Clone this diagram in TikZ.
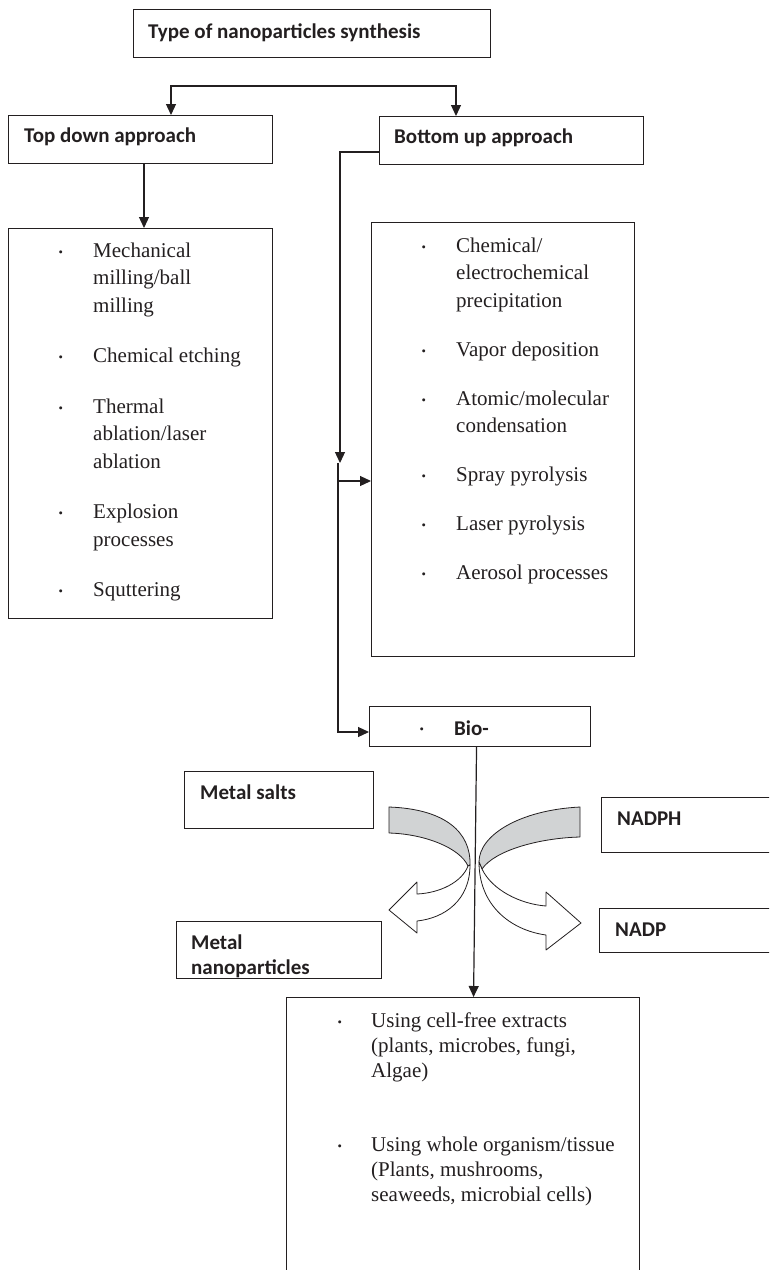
\documentclass[tikz,border=0pt]{standalone}
\usepackage{fontspec}
\setmainfont{Liberation Serif}
\newfontfamily\labelfont{Carlito}
\usetikzlibrary{arrows.meta,calc}
\definecolor{ink}{HTML}{231F20}
\definecolor{bandgray}{HTML}{D1D3D4}
% small raised list bullet
\newcommand\bul{\raisebox{1.2pt}{\rmfamily\mdseries\fontsize{12.5}{12.5}\selectfont\textbullet}}

\begin{document}
\begin{tikzpicture}[x=1pt,y=-1pt,
  box/.style={draw=ink,line width=1.1pt,inner sep=0pt,anchor=north west},
  lbl/.style={inner sep=0pt,anchor=base west,text=ink,
    font=\labelfont\bfseries\fontsize{21}{25.7}\selectfont},
  listtxt/.style={inner sep=0pt,anchor=north west,text=ink},
  conn/.style={draw=ink,line width=1.2pt},
  tip/.tip={Triangle[length=11pt,width=10pt]},
  arr/.style={conn,-tip},
  band/.style={draw=ink,line width=0.8pt,fill=bandgray,line join=round},
  front/.style={draw=ink,line width=0.8pt,fill=white,line join=round}]

\useasboundingbox (0,0) rectangle (769,1270);
\clip (0,0) rectangle (769,1270);

% ---- boxes ----
\node[box,minimum width=357pt,minimum height=48pt] (title) at (133,9) {};
\node[box,minimum width=264pt,minimum height=48pt] (td) at (8,115) {};
\node[box,minimum width=264pt,minimum height=48pt] (bu) at (379,116) {};
\node[box,minimum width=264pt,minimum height=390pt] (tdl) at (8,228) {};
\node[box,minimum width=263pt,minimum height=434pt] (bul) at (371,222) {};
\node[box,minimum width=221pt,minimum height=40pt] (bio) at (369,706) {};
\node[box,minimum width=189pt,minimum height=57pt] (ms) at (184,771) {};
\node[box,minimum width=205pt,minimum height=57pt] (mn) at (176,921) {};
\node[box,minimum width=190pt,minimum height=55pt] (nadph) at (601,797) {};
\node[box,minimum width=190pt,minimum height=44pt] (nadp) at (599,908) {};
\node[box,minimum width=353pt,minimum height=300pt] (bot) at (286,997) {};

% ---- labels ----
\node[lbl] (title-t) at (148,38.5) {Type of nanoparticles synthesis};
\node[lbl] (td-t) at (24,142.5) {Top down approach};
\node[lbl] (bu-t) at (394,143) {Bottom up approach};
\node[lbl] (bio-t) at (419.5,735) {\makebox[34.5pt][l]{\bul}Bio-};
\node[lbl] (ms-t) at (200,799) {Metal salts};
\node[lbl] (nadph-t) at (617,825) {NADPH};
\node[lbl] (nadp-t) at (615,936) {NADP};
\node[lbl] (mn-t) at (191,949)
  {\begin{tabular}[t]{@{}l@{}}Metal\\nanoparticles\end{tabular}};

% ---- bullet lists ----
\node[listtxt,font=\fontsize{21}{27.5}\selectfont] (tdl-t) at (58.5,237.75)
  {\begin{tabular}{@{}p{34.5pt}@{}l@{}}
   \bul & Mechanical\\ & milling/ball\\ & milling\\[23pt]
   \bul & Chemical etching\\[23pt]
   \bul & Thermal\\ & ablation/laser\\ & ablation\\[23pt]
   \bul & Explosion\\ & processes\\[23pt]
   \bul & Squttering
   \end{tabular}};
\node[listtxt,font=\fontsize{21}{27.5}\selectfont] (bul-t) at (421.5,232.75)
  {\begin{tabular}{@{}p{34.5pt}@{}l@{}}
   \bul & Chemical/\\ & electrochemical\\ & precipitation\\[21.5pt]
   \bul & Vapor deposition\\[21.5pt]
   \bul & Atomic/molecular\\ & condensation\\[21.5pt]
   \bul & Spray pyrolysis\\[21.5pt]
   \bul & Laser pyrolysis\\[21.5pt]
   \bul & Aerosol processes
   \end{tabular}};
\node[listtxt,font=\fontsize{21}{25}\selectfont] (bot-t) at (337.5,1009.5)
  {\begin{tabular}{@{}p{33.5pt}@{}l@{}}
   \bul & Using cell-free extracts\\ & (plants, microbes, fungi,\\ & Algae)\\[49pt]
   \bul & Using whole organism/tissue\\ & (Plants, mushrooms,\\ & seaweeds, microbial cells)
   \end{tabular}};

% ---- connectors ----
\coordinate (brL) at (171,86);
\coordinate (brR) at (456,86);
\draw[conn,tip-tip] (td.north -| brL) |- (brR) -- (bu.north -| brR);

\coordinate (tdx) at (144,0);
\draw[arr] (td.south -| tdx) -- (tdl.north -| tdx);

\coordinate (j1) at (340,152);
\coordinate (j2) at (340,463);
\coordinate (j3) at (338,463);
\coordinate (j4) at (338,732);
\coordinate (j5) at (338,481);
\draw[arr] (bu.west |- j1) -- (j1) -- (j2);
\draw[arr] (j3) -- (j4) -- (bio.west |- j4);
\draw[arr] (j5) -- (bul.west |- j5);

% ---- curved reaction arrows ----
\filldraw[band] (389,807) .. controls (445,809) and (471,832) .. (470,865)
  -- (468,866) .. controls (460,848) and (425,834) .. (389,833) -- cycle;
\filldraw[front] (468,866) .. controls (462,882) and (440,893) .. (417,894)
  -- (417,882) -- (389,910) -- (417,933) -- (417,921)
  .. controls (445,918) and (470,900) .. (470,865) -- cycle;
\filldraw[band] (580,807) .. controls (520,810) and (479,835) .. (479,862)
  -- (482,869) .. controls (495,850) and (540,838) .. (580,837) -- cycle;
\filldraw[front] (482,869) .. controls (492,890) and (520,904) .. (546,906)
  -- (546,892) -- (581,923) -- (546,950) -- (546,935)
  .. controls (510,930) and (479,905) .. (479,862) -- cycle;

\draw[arr] ($(bio.south)+(-3.5,0)$) -- ($(bot.north)+(10.5,0)$);
\end{tikzpicture}
\end{document}
